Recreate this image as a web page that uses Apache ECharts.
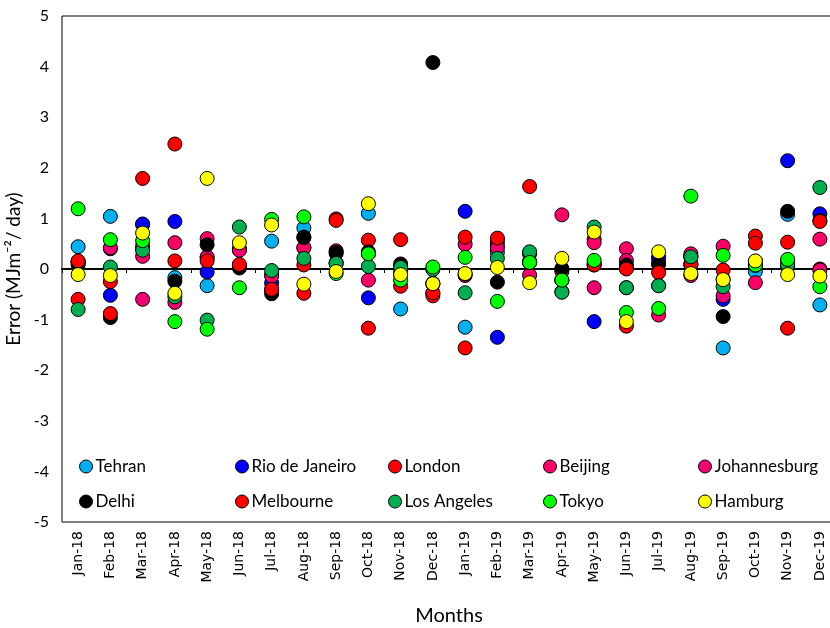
<!DOCTYPE html>
<html>
<head>
<meta charset="utf-8">
<script src="https://cdn.jsdelivr.net/npm/echarts@6/dist/echarts.min.js"></script>
<style>
  html, body { margin: 0; padding: 0; background: #fff; }
  #chart { width: 830px; height: 628px; }
</style>
</head>
<body>
<div id="chart"></div>
<script>
// Monthly error of estimated solar radiation per city (MJ m^-2 / day)
const months = ['Jan-18','Feb-18','Mar-18','Apr-18','May-18','Jun-18','Jul-18','Aug-18','Sep-18','Oct-18','Nov-18','Dec-18',
                'Jan-19','Feb-19','Mar-19','Apr-19','May-19','Jun-19','Jul-19','Aug-19','Sep-19','Oct-19','Nov-19','Dec-19'];
const yTicks = [-5, -4, -3, -2, -1, 0, 1, 2, 3, 4, 5];

const tehran       = [0.44, 1.04, 0.88, -0.17, -0.33, 0.05, 0.55, 0.81, 0.31, 1.10, -0.79, -0.48, -1.15, 0.33, 0.32, -0.02, 0.08, 0.02, 0.22, 0.08, -1.56, -0.05, 1.08, -0.71];
const rio          = [0.14, -0.52, 0.89, 0.94, -0.06, 0.06, -0.28, 0.42, 0.12, -0.57, -0.10, -0.28, 1.14, -1.35, 0.14, -0.22, -1.04, -0.37, 0.22, 0.24, -0.60, 0.15, 2.14, 1.09];
const london       = [-0.60, -0.25, 1.79, 2.47, 0.22, 0.38, -0.12, 0.08, 0.99, 0.57, 0.58, -0.53, -1.56, 0.55, 1.63, -0.05, 0.59, -1.13, 0.10, 0.25, -0.20, 0.65, 0.53, 0.00];
const beijing      = [0.12, 0.40, 0.25, 0.52, 0.60, 0.40, -0.14, 0.42, 0.36, -0.22, 0.05, -0.30, 0.49, 0.47, -0.12, 1.07, 0.52, 0.40, -0.91, 0.30, 0.45, -0.27, 0.15, 0.59];
const johannesburg = [0.14, 0.42, -0.60, -0.66, 0.24, 0.37, -0.42, 0.62, 0.12, 0.30, -0.05, 0.00, -0.13, 0.42, 0.30, -0.45, -0.37, 0.17, -0.33, -0.13, -0.53, 0.08, 0.05, -0.02];
const delhi        = [0.08, -0.96, 0.40, -0.24, 0.48, 0.02, -0.49, 0.63, 0.33, 0.34, 0.10, 4.08, -0.10, -0.26, 0.13, 0.01, 0.12, 0.08, 0.10, 0.10, -0.94, 0.10, 1.14, 0.96];
const melbourne    = [0.16, -0.88, 0.45, 0.16, 0.16, 0.09, -0.40, -0.48, 0.96, -1.17, -0.34, -0.47, 0.63, 0.61, 0.15, -0.22, 0.08, 0.00, -0.07, 0.09, -0.02, 0.51, -1.17, 0.94];
const losAngeles   = [-0.80, 0.04, 0.37, -0.55, -1.01, 0.83, -0.03, 0.21, 0.11, 0.05, 0.03, -0.01, -0.47, 0.21, 0.34, -0.46, 0.83, -0.37, -0.33, 0.24, -0.35, 0.07, 0.08, 1.61];
const tokyo        = [1.19, 0.58, 0.56, -1.04, -1.19, -0.37, 0.98, 1.03, -0.09, 0.30, -0.22, 0.04, 0.23, -0.64, 0.13, -0.22, 0.17, -0.86, -0.78, 1.44, 0.27, 0.08, 0.19, -0.35];
const hamburg      = [-0.11, -0.13, 0.71, -0.48, 1.79, 0.52, 0.87, -0.30, -0.05, 1.29, -0.11, -0.29, -0.09, 0.03, -0.27, 0.21, 0.73, -1.04, 0.34, -0.09, -0.21, 0.16, -0.11, -0.14];

const cityNames  = ['Tehran', 'Rio de Janeiro', 'London', 'Beijing', 'Johannesburg', 'Delhi', 'Melbourne', 'Los Angeles', 'Tokyo', 'Hamburg'];
const cityValues = [tehran, rio, london, beijing, johannesburg, delhi, melbourne, losAngeles, tokyo, hamburg];
const cityColors = ['#00B0F0', '#0000FF', '#FF0000', '#FF0066', '#F00070', '#000000', '#FF0000', '#00B050', '#00FF00', '#FFFF00'];

const font = 'Lato, "Open Sans", sans-serif';

// legend: two rows of five, fixed columns
const legendCols = [79, 235, 388, 543, 698];
const legendRows = [458, 493];
const legends = cityNames.map((name, i) => ({
  data: [name],
  left: legendCols[i % 5],
  top: legendRows[Math.floor(i / 5)],
  padding: 0,
  icon: 'circle',
  itemWidth: 13,
  itemHeight: 13,
  selectedMode: false,
  itemStyle: { borderColor: '#000', borderWidth: 1 },
  textStyle: { fontFamily: font, fontSize: 17, color: '#000', padding: [0, 0, 0, -2] }
}));

const series = cityNames.map((name, i) => ({
  name: name,
  type: 'scatter',
  xAxisIndex: 0,
  symbol: 'circle',
  symbolSize: 14,
  itemStyle: { color: cityColors[i], borderColor: '#000', borderWidth: 1, opacity: 1 },
  emphasis: { disabled: true },
  data: cityValues[i].map((v, j) => [months[j], v])
}));

const chart = echarts.init(document.getElementById('chart'), null, { renderer: 'canvas' });
chart.setOption({
  animation: false,
  backgroundColor: '#fff',
  grid: {
    left: 62, right: -6, top: 16, bottom: 106,
    outerBoundsMode: 'none', containLabel: false,
    show: true, borderColor: '#000', borderWidth: 1, backgroundColor: 'transparent'
  },
  legend: legends,
  xAxis: [
    {
      type: 'category',
      data: months,
      position: 'bottom',
      axisLine: { show: false, onZero: false },
      axisTick: { show: false },
      axisLabel: { rotate: 90, fontFamily: '"DejaVu Sans", Verdana, sans-serif', fontSize: 14, color: '#000', margin: 9 },
      name: 'Months',
      nameLocation: 'middle',
      nameGap: 84,
      nameTextStyle: { fontFamily: font, fontSize: 20, color: '#000' },
      splitLine: { show: false }
    },
    {
      type: 'category',
      data: months,
      position: 'bottom',
      axisLine: { show: true, onZero: true, lineStyle: { color: '#000', width: 2 } },
      axisTick: { show: true, inside: false, length: 4, lineStyle: { color: '#000', width: 1 } },
      axisLabel: { show: false },
      splitLine: { show: false }
    }
  ],
  yAxis: {
    type: 'value',
    min: yTicks[0],
    max: yTicks[yTicks.length - 1],
    interval: 1,
    axisLine: { show: false },
    axisTick: { show: false },
    splitLine: { show: false },
    axisLabel: { fontFamily: font, fontSize: 16, color: '#000', margin: 13 },
    name: 'Error (MJm\u207B\u00B2/ day)',
    nameLocation: 'middle',
    nameGap: 31,
    nameTextStyle: { fontFamily: font, fontSize: 19, color: '#000' }
  },
  series: series
});
</script>
</body>
</html>
